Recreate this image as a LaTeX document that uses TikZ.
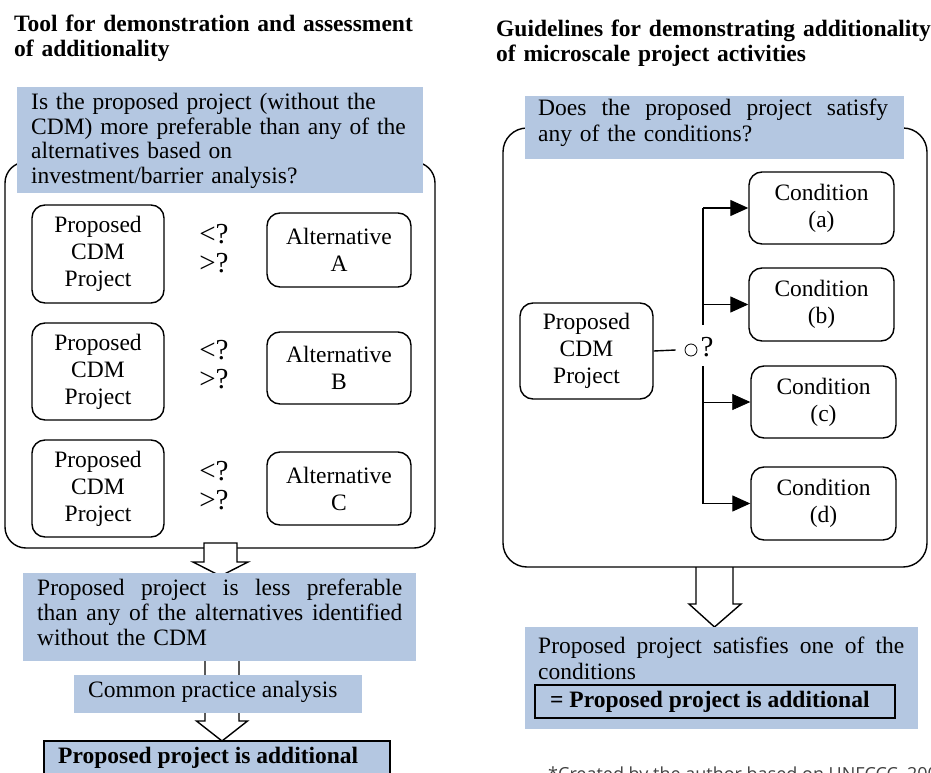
\documentclass[tikz,border=0pt]{standalone}
\usepackage{fontspec}
\setmainfont{Liberation Serif}
\newfontfamily\notefont{Open Sans}
\usetikzlibrary{arrows.meta,calc}
\definecolor{boxblue}{RGB}{180,199,225}
\newcommand\bodysize[1]{\fontsize{23.5}{#1}\selectfont}
% a line spread to a fixed width, with the font's own stretchable spaces
\newcommand\spreadline[2]{\makebox[#1][s]{\spaceskip=0pt\xspaceskip=0pt\relax #2}}

\begin{document}
\begin{tikzpicture}[x=1pt,y=-1pt,
  outline/.style={line width=1.4pt},
  frame/.style={outline, draw, rounded corners=21pt, inner sep=0pt},
  rbox/.style={outline, draw, fill=white, rounded corners=13pt, inner sep=0pt,
    align=center, font=\bodysize{27}},
  bluebox/.style={fill=boxblue, inner sep=0pt, anchor=north west},
  boldbox/.style={bluebox, draw=black, line width=1.9pt},
  txt/.style={inner sep=0pt, anchor=base west, align=left},
  cmp/.style={inner sep=0pt, align=center, text width=36pt,
    font=\fontsize{29}{29}\selectfont},
  blockarrow/.style={outline, draw, fill=white, line join=miter},
  conn/.style={line width=1.3pt, -{Triangle[length=18pt,width=16pt]}},
]
\useasboundingbox (0,0) rectangle (931,773);

% ---------- headings ----------
\node[txt, text width=420pt, font=\bfseries\bodysize{25}] (ltitle) at (14,32)
  {Tool for demonstration and assessment\\of additionality};
\node[txt, text width=450pt, font=\bfseries\bodysize{24.5}] (rtitle) at (496,37)
  {Guidelines for demonstrating additionality\\of microscale project activities};

% ---------- left: investment / barrier analysis ----------
\node[frame, minimum width=430pt, minimum height=386pt] (lframe) at (220,355) {};
\node[bluebox, minimum width=406pt, minimum height=106pt] (lq) at (17,87) {};
\node[txt, text width=385pt, font=\bodysize{24.4}] (lqt) at (31,110)
  {Is the proposed project (without the\\CDM) more preferable than any of the\\alternatives based on\\investment/barrier analysis?};

\node[rbox, minimum width=132pt, minimum height=98pt] (p1) at (98,254) {Proposed\\CDM\\Project};
\node[rbox, minimum width=132pt, minimum height=97pt] (p2) at (98,371.5) {Proposed\\CDM\\Project};
\node[rbox, minimum width=132pt, minimum height=97pt] (p3) at (98,488.5) {Proposed\\CDM\\Project};

\node[rbox, minimum width=144pt, minimum height=74pt] (alta) at (339,250) {Alternative\\A};
\node[rbox, minimum width=144pt, minimum height=72pt] (altb) at (339,368) {Alternative\\B};
\node[rbox, minimum width=144pt, minimum height=73pt] (altc) at (339,488.5) {Alternative\\C};

\node[cmp] (c1) at (214,249) {<?\\>?};
\node[cmp] (c2) at (214,365) {<?\\>?};
\node[cmp] (c3) at (214,486) {<?\\>?};

% block arrow out of the frame
\coordinate (a1) at (204,543);
\draw[blockarrow] (a1) -- ++(33,0) -- ++(0,19) -- ++(11,0) -- ++(-27.5,14)
  -- ++(-27.5,-14) -- ++(11,0) -- cycle;

% second block arrow, running behind the analysis box
\coordinate (a2) at (205,661);
\draw[blockarrow] (a2) -- ++(0,60) -- ++(-8.5,0) -- ++(25.5,20) -- ++(25.5,-20)
  -- ++(-8.5,0) -- ++(0,-60);

\node[bluebox, minimum width=393pt, minimum height=88pt] (lres) at (23,573) {};
\node[txt, text width=370pt, font=\bodysize{25}] (lrest) at (37,595)
  {\spreadline{365pt}{Proposed project is less preferable}\\
   \spreadline{365pt}{than any of the alternatives identified}\\
   without the CDM};

\node[bluebox, minimum width=288pt, minimum height=38pt] (cpa) at (74,675) {};
\node[txt, font=\bodysize{25}] (cpat) at (88,697) {Common practice analysis};

\node[boldbox, minimum width=346pt, minimum height=70pt] (ladd) at (43,740) {};
\node[txt, font=\bfseries\bodysize{25}] (laddt) at (58,763) {Proposed project is additional};

% ---------- right: microscale conditions ----------
\coordinate (ra) at (696,567);
\draw[blockarrow] (ra) -- ++(0,37) -- ++(-7,0) -- ++(25.5,23) -- ++(26.5,-23)
  -- ++(-8,0) -- ++(0,-37);

\node[frame, minimum width=424pt, minimum height=439pt, rounded corners=24pt] (rframe) at (715,347.5) {};
\node[bluebox, minimum width=379pt, minimum height=63pt] (rq) at (525,96) {};
\node[txt, text width=360pt, font=\bodysize{25}] (rqt) at (538,116)
  {\spreadline{350pt}{Does the proposed project satisfy}\\any of the conditions?};

\node[rbox, minimum width=133pt, minimum height=96pt] (pr) at (586.5,351) {Proposed\\CDM\\Project};

\node[rbox, minimum width=145pt, minimum height=72pt] (ca) at (821.5,208) {Condition\\(a)};
\node[rbox, minimum width=145pt, minimum height=73pt] (cb) at (821.5,304.5) {Condition\\(b)};
\node[rbox, minimum width=145pt, minimum height=72pt] (cc) at (823.5,402) {Condition\\(c)};
\node[rbox, minimum width=145pt, minimum height=73pt] (cd) at (823.5,503.5) {Condition\\(d)};

\coordinate (jx) at (703,351);
\node[circle, draw, line width=0.8pt, inner sep=0pt, minimum size=12pt] (oc) at (691,350) {};
\node[inner sep=0pt, font=\fontsize{29}{29}\selectfont] (qm) at (707,347) {?};
\draw[outline] (pr.east) -- ($(oc.west)+(-9,0)$);

\draw[line width=1.3pt] (ca.west -| jx) -- ($(jx)+(0,-26)$);
\draw[line width=1.3pt] ($(jx)+(0,15)$) -- (cd.west -| jx);
\draw[conn] (ca.west -| jx) -- (ca.west);
\draw[conn] (cb.west -| jx) -- (cb.west);
\draw[conn, line width=0.7pt] (cc.west -| jx) -- (cc.west);
\draw[conn] (cd.west -| jx) -- (cd.west);

\node[bluebox, minimum width=393pt, minimum height=102pt] (rres) at (525,627) {};
\node[txt, text width=370pt, font=\bodysize{26}] (rrest) at (538,653)
  {\spreadline{366pt}{Proposed project satisfies one of the}\\conditions};
\node[boldbox, minimum width=360pt, minimum height=33pt] (radd) at (534,684) {};
\node[txt, font=\bfseries\bodysize{25}] (raddt) at (550,707) {= Proposed project is additional};

% source note
\node[txt, font=\notefont\fontsize{18}{20}\selectfont, text=black!75] (note) at (548,780)
  {*Created by the author based on UNFCCC, 2009};
\end{tikzpicture}
\end{document}
